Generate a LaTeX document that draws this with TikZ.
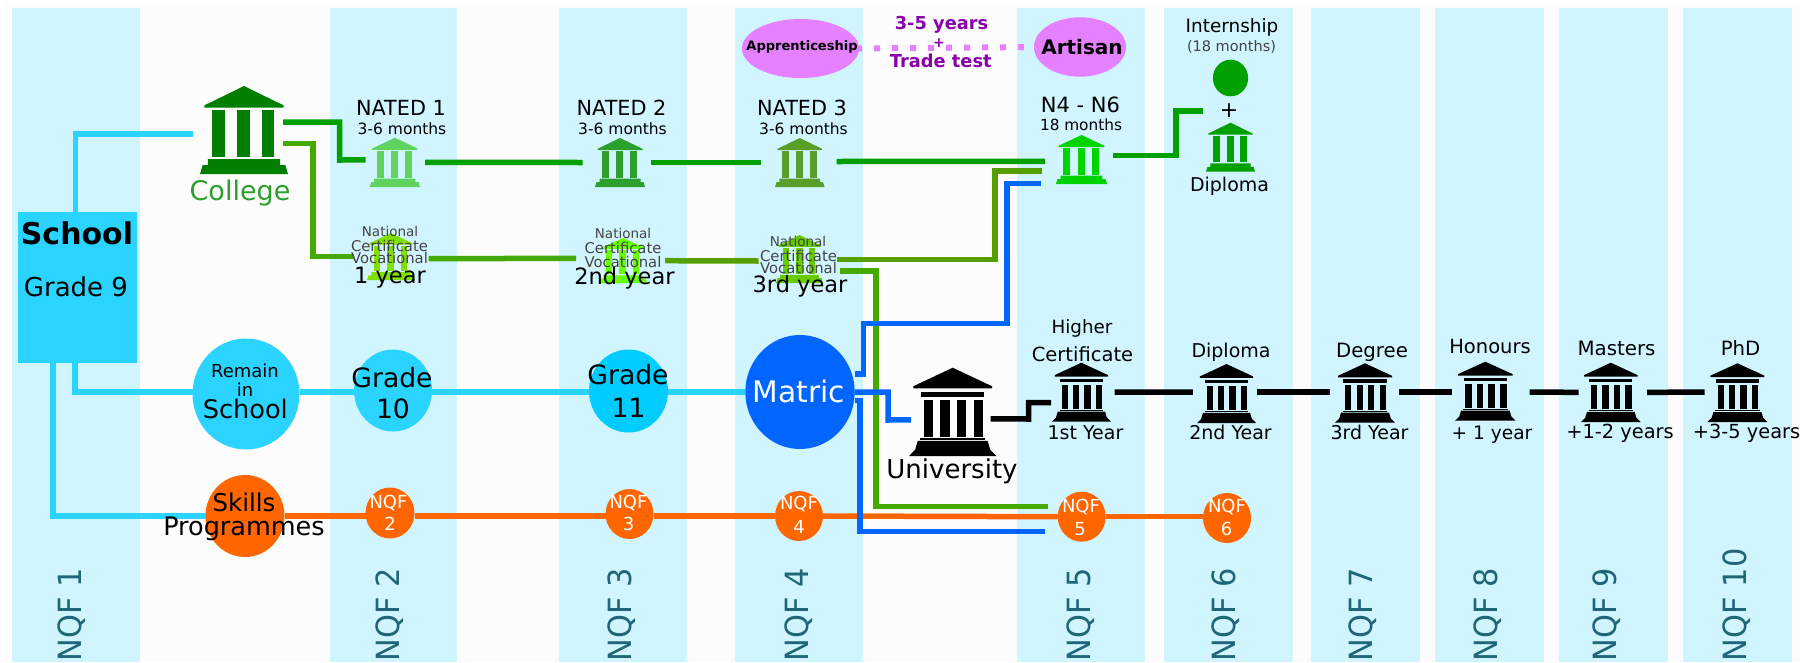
\documentclass[tikz,border=0pt]{standalone}
\usepackage{fontspec}
\setmainfont{DejaVu Sans}
\usetikzlibrary{shapes.geometric}
\definecolor{bandc}{HTML}{D1F5FF}
\definecolor{pagec}{HTML}{FCFCFC}
\definecolor{sky}{HTML}{2AD4FF}
\definecolor{skyb}{HTML}{00CCFF}
\definecolor{blu}{HTML}{0066FF}
\definecolor{org}{HTML}{FF6600}
\definecolor{pink}{HTML}{E580FF}
\definecolor{purp}{HTML}{8800AA}
\definecolor{grA}{HTML}{00A000}
\definecolor{grB}{HTML}{44AA00}
\definecolor{grC}{HTML}{55A000}
\definecolor{teal}{HTML}{1F6678}
\definecolor{ncvt}{HTML}{444444}
\definecolor{colg}{HTML}{007F00}
\definecolor{natA}{HTML}{5FD35F}
\definecolor{natB}{HTML}{2CA02C}
\definecolor{natC}{HTML}{5A9E2A}
\definecolor{natD}{HTML}{00D400}
\definecolor{natE}{HTML}{00A000}
\definecolor{ncvA}{HTML}{80E000}
\definecolor{ncvB}{HTML}{66FF00}
\definecolor{ncvC}{HTML}{66CC00}
\definecolor{coltx}{HTML}{2CA02C}
\tikzset{
  band/.style={fill=bandc},
  iconbox/.style={inner sep=0pt,outer sep=0pt},
  blob/.style={ellipse,inner sep=0pt,outer sep=0pt},
  lbl/.style={inner sep=0pt,outer sep=0pt,align=center},
  nqflab/.style={inner sep=0pt,outer sep=0pt,rotate=90,anchor=west,text=teal,font=\fontsize{32pt}{32pt}\selectfont},
  conn/.style={line width=5.5pt,line join=miter},
  skyline/.style={conn,sky},
  grAline/.style={conn,grA},
  grBline/.style={conn,grB},
  grCline/.style={conn,grC},
  blueline/.style={conn,blu},
  orgline/.style={conn,org},
  blkline/.style={conn,black}
}
% three-column building
\newcommand{\bankA}[6]{%
  \pgfmathsetmacro\bw{#4-#2}\pgfmathsetmacro\bh{#5-#3}%
  \node[iconbox,minimum width=\bw pt,minimum height=\bh pt] (#1) at ({(#2+#4)/2},{(#3+#5)/2}) {};
  \begin{scope}[shift={(#2,#3)},xscale=\bw,yscale=\bh]
    \fill[#6] (.5,0) -- (.95,.22) -- (.95,.245) -- (.05,.245) -- (.05,.22) -- cycle;
    \fill[#6] (.14,.275) rectangle (.28,.81);
    \fill[#6] (.425,.275) rectangle (.565,.81);
    \fill[#6] (.70,.275) rectangle (.84,.81);
    \fill[#6] (.09,.83) -- (.91,.83) -- (.91,.90) -- (.97,.90) -- (1,1) -- (0,1) -- (.03,.90) -- (.09,.90) -- cycle;
  \end{scope}}
% four-column building
\newcommand{\bankB}[6]{%
  \pgfmathsetmacro\bw{#4-#2}\pgfmathsetmacro\bh{#5-#3}%
  \node[iconbox,minimum width=\bw pt,minimum height=\bh pt] (#1) at ({(#2+#4)/2},{(#3+#5)/2}) {};
  \begin{scope}[shift={(#2,#3)},xscale=\bw,yscale=\bh]
    \fill[#6] (.5,0) -- (.95,.21) -- (.95,.235) -- (.05,.235) -- (.05,.21) -- cycle;
    \fill[#6] (.14,.27) rectangle (.86,.33);
    \foreach \cx in {.168,.36,.55,.745} \fill[#6] (\cx,.37) rectangle (\cx+.105,.78);
    \fill[#6] (.13,.795) rectangle (.87,.815);
    \fill[#6] (.10,.83) -- (.90,.83) -- (.93,.93) -- (1,1) -- (0,1) -- (.07,.93) -- cycle;
  \end{scope}}
\newcommand{\blobat}[6]{\node[blob,fill=#6,minimum width=#4*2pt,minimum height=#5*2pt] (#1) at (#2,#3) {};}
\newcommand{\lab}[6]{\node[lbl,font=\fontsize{#4pt}{#4pt}\selectfont,#5] (#1) at (#2,#3) {#6};}
\begin{document}
\begin{tikzpicture}[x=1pt,y=-1pt]
\useasboundingbox (0,0) rectangle (1804,662);
\fill[white] (0,0) rectangle (1804,662);
\fill[pagec] (6,3) rectangle (1800,662);
% bands
\foreach \a/\b in {11.5/140,330/457,559/687,735/863,1016.5/1145,1164/1292.5,1311/1419.5,1435/1543.7,1559/1667.6,1683/1792}
  \fill[band] (\a,8) rectangle (\b,662);
% school
\node[iconbox,fill=sky,minimum width=118.6pt,minimum height=151pt] (school) at (77.7,287.5) {};
% buildings
\bankA{college}{200}{86}{288}{174}{colg}
\bankA{nat1}{369.7}{137.7}{420}{187}{natA}
\bankA{nat2}{595}{138}{645}{187}{natB}
\bankA{nat3}{775}{138}{824.5}{187}{natC}
\bankA{nfour}{1056}{135}{1107}{184}{natD}
\bankA{dipl}{1206}{122.7}{1255}{171.7}{natE}
\bankA{ncv1}{367}{233}{415}{280}{ncvA}
\bankA{ncv2}{599}{238}{647}{283}{ncvB}
\bankA{ncv3}{776}{235}{823}{283}{ncvC}
\bankB{univ}{909}{367.7}{996.4}{456}{black}
\bankB{hc}{1051.8}{362.7}{1111}{421.7}{black}
\bankB{dip}{1197}{364}{1256}{423}{black}
\bankB{deg}{1335}{363.3}{1395}{422.7}{black}
\bankB{hon}{1455}{361.7}{1515.6}{420.7}{black}
\bankB{mas}{1581}{362.7}{1640.6}{422}{black}
\bankB{phd}{1707.4}{363.3}{1767.4}{422}{black}
% blobs
\blobat{rem}{246}{394}{53.5}{55.5}{sky}
\blobat{gten}{393}{390.5}{39}{41}{sky}
\blobat{gele}{628.5}{391}{39.5}{41.5}{skyb}
\blobat{mat}{800}{392}{54.7}{57}{blu}
\blobat{skl}{245}{516}{39.5}{41}{org}
\blobat{qtwo}{390}{513}{24.5}{25.5}{org}
\blobat{qthr}{629.5}{514}{24}{25}{org}
\blobat{qfou}{799}{516}{24}{25}{org}
\blobat{qfiv}{1081.7}{516.7}{24}{25}{org}
\blobat{qsix}{1227}{518}{24}{25}{org}
\blobat{app}{800.5}{48.5}{58.5}{29.5}{pink}
\blobat{art}{1080}{47}{46}{29.7}{pink}
\blobat{intern}{1230.5}{78}{17.6}{18.3}{grA}
% apprenticeship link
\draw[pink,line width=6pt,dash pattern=on 6pt off 12pt,dash phase=3pt] (app.east) -- (art.west);
% school lines
\draw[skyline] ([shift={(-2.3,0)}]school.north) -- (75.4,134) -- ([shift={(-7,4)}]college.west);
\draw[skyline] ([shift={(-2.7,0)}]school.south) -- (75,392) -- ([shift={(0,-2)}]rem.west);
\draw[skyline] ([shift={(-24.7,0)}]school.south) -- (53,516) -- (skl.west);
\draw[skyline] ([shift={(0,-2)}]rem.east) -- ([shift={(0,1.5)}]gten.west);
\draw[skyline] ([shift={(0,1.5)}]gten.east) -- ([shift={(0,1)}]gele.west);
\draw[skyline] ([shift={(0,1)}]gele.east) -- (mat.west);
% NATED track
\draw[grAline] ([shift={(-5,-8)}]college.east) -- (339.5,122) -- (339.5,160) -- ([shift={(-4,-2.4)}]nat1.west);
\draw[grAline] ([shift={(5,0)}]nat1.east) -- ([shift={(-12.3,0)}]nat2.west);
\draw[grAline] ([shift={(5.7,0)}]nat2.east) -- ([shift={(-14.3,0)}]nat3.west);
\draw[grAline] ([shift={(12,-1)}]nat3.east) -- ([shift={(-11,1.8)}]nfour.west);
\draw[grAline] ([shift={(5.5,-4.2)}]nfour.east) -- (1176,155.3) -- (1176,111) -- ([shift={(-3.3,-36.2)}]dipl.west);
% NCV track
\draw[grBline] ([shift={(-5,13.7)}]college.east) -- (313,143.7) -- (313,256.5) -- ([shift={(-13,0)}]ncv1.west);
\draw[grBline] ([shift={(13.6,2.2)}]ncv1.east) -- ([shift={(-23,-2.2)}]ncv2.west);
\draw[grCline] ([shift={(18,0.2)}]ncv2.east) -- ([shift={(-17.5,2)}]ncv3.west);
\draw[grCline] ([shift={(13.6,0.3)}]ncv3.east) -- (995,259.3) -- (995,171) -- ([shift={(-14,11.5)}]nfour.west);
\draw[grBline] ([shift={(16.7,12)}]ncv3.east) -- (876,271) -- (876,506.7) -- ([shift={(-10.2,-10)}]qfiv.west);
% orange line
\draw[orgline] (skl.east) -- ([shift={(0,3)}]qtwo.west);
\draw[orgline] ([shift={(0,3)}]qtwo.east) -- ([shift={(0,2)}]qthr.west);
\draw[orgline] ([shift={(0,2)}]qthr.east) -- (qfou.west);
\draw[orgline] (qfou.east) -- (qfiv.west);
\draw[orgline] (qfiv.east) -- ([shift={(0,-1.3)}]qsix.west);
% matric lines
\draw[blueline] ([shift={(0,-18)}]mat.east) -- (863.4,374) -- (863.4,323.3) -- (1007,323.3) -- (1007,183.3) -- ([shift={(-15.4,23.8)}]nfour.west);
\draw[blueline] (mat.east) -- (888,392) -- (888,420) -- ([shift={(2,8)}]univ.west);
\draw[blueline] ([shift={(0,8.7)}]mat.east) -- (859.8,400.7) -- (859.8,531.7) -- ([shift={(-13,15)}]qfiv.west);
% university lines
\draw[blkline] ([shift={(-5.8,7)}]univ.east) -- (1028.6,419) -- (1028.6,402.7) -- ([shift={(-.8,10.5)}]hc.west);
\draw[blkline] ([shift={(3.7,0)}]hc.east) -- ([shift={(-4.2,-1.5)}]dip.west);
\draw[blkline] ([shift={(1,-1.5)}]dip.east) -- ([shift={(-5,-1)}]deg.west);
\draw[blkline] ([shift={(4,-1)}]deg.east) -- ([shift={(-2.6,.8)}]hon.west);
\draw[blkline] ([shift={(13.9,.8)}]hon.east) -- ([shift={(-2.5,0)}]mas.west);
\draw[blkline] ([shift={(6.4,0)}]mas.east) -- ([shift={(-2.9,-.6)}]phd.west);
% NQF labels
\foreach \nn/\xx/\tt in {a/72/1,b/390/2,c/622/3,d/798.7/4,e/1081/5,f/1226/6,g/1363/7,h/1488/8,i/1607/9,j/1737/10}
  \node[nqflab] (nqf\nn) at (\xx,661) {\scalebox{.95}[1]{NQF \tt}};
% texts
\lab{tsch}{77}{233}{30}{font=\fontsize{30pt}{30pt}\selectfont\bfseries}{School}
\lab{tgr9}{76}{287}{26}{}{Grade 9}
\lab{tcol}{240}{193.5}{27}{text=coltx}{College}
\lab{tn1}{401}{108}{20.8}{}{NATED 1}
\lab{tm1}{402}{129}{15.5}{}{3-6 months}
\lab{tn2}{621.5}{108}{20.8}{}{NATED 2}
\lab{tm2}{622.5}{129}{15.5}{}{3-6 months}
\lab{tn3}{802}{108}{20.8}{}{NATED 3}
\lab{tm3}{803.5}{129}{15.5}{}{3-6 months}
\lab{tn4}{1080.5}{105}{21}{}{N4 - N6}
\lab{tm4}{1081}{125}{15.3}{}{18 months}
\lab{tint}{1232}{27.7}{18.4}{}{Internship}
\lab{tint2}{1231.5}{47.3}{14.5}{text=ncvt}{(18 months)}
\lab{tplus}{1229}{111}{22}{}{+}
\lab{tdipl}{1229.5}{186}{19}{}{Diploma}
\lab{tyr}{941.5}{25}{17.8}{font=\fontsize{17.8pt}{17.8pt}\selectfont\bfseries,text=purp}{3-5 years}
\lab{tpl}{939}{43}{14}{font=\fontsize{14pt}{14pt}\selectfont\bfseries,text=purp}{+}
\lab{ttr}{940.8}{60.5}{17.8}{font=\fontsize{17.8pt}{17.8pt}\selectfont\bfseries,text=purp}{Trade test}
\lab{tapp}{802}{47.3}{13}{font=\fontsize{13pt}{13pt}\selectfont\bfseries}{Apprenticeship}
\lab{tart}{1082}{47.3}{20}{font=\fontsize{20pt}{20pt}\selectfont\bfseries}{Artisan}
% NCV
\lab{tv1a}{390}{231.7}{13.5}{text=ncvt}{National}
\lab{tv1b}{389.5}{246}{14.8}{text=ncvt}{Certificate}
\lab{tv1c}{389.5}{258}{14.8}{text=ncvt}{Vocational}
\lab{tv1d}{390}{277.5}{22.5}{}{1 year}
\lab{tv2a}{623}{233}{13.5}{text=ncvt}{National}
\lab{tv2b}{623}{248}{14.8}{text=ncvt}{Certificate}
\lab{tv2c}{623}{262}{14.8}{text=ncvt}{Vocational}
\lab{tv2d}{624.5}{278}{22.5}{}{2nd year}
\lab{tv3a}{798}{241.7}{13.5}{text=ncvt}{National}
\lab{tv3b}{798.5}{256}{14.8}{text=ncvt}{Certificate}
\lab{tv3c}{798.5}{268}{14.8}{text=ncvt}{Vocational}
\lab{tv3d}{800}{286.5}{22.5}{}{3rd year}
% school track
\lab{trem}{245}{370.7}{18}{}{Remain}
\lab{tin}{245}{389.3}{18}{}{in}
\lab{tsc}{245.3}{409}{25.6}{}{School}
\lab{tg1}{392}{377.3}{26.6}{}{Grade}
\lab{tg10}{393}{409}{26.6}{}{10}
\lab{tg2}{628}{375}{26.6}{}{Grade}
\lab{tg11}{628.5}{408}{26.6}{}{11}
\lab{tmat}{799}{391}{29.7}{text=white}{Matric}
\lab{tsk}{244}{502.3}{24.5}{}{Skills}
\lab{tprog}{244}{529}{25.5}{}{Programmes}
\lab{tq2a}{388.5}{502.7}{18}{text=white}{NQF}
\lab{tq2b}{390}{524}{18}{text=white}{2}
\lab{tq3a}{628.5}{502.7}{18}{text=white}{NQF}
\lab{tq3b}{628.5}{524}{18}{text=white}{3}
\lab{tq4a}{799}{504}{18}{text=white}{NQF}
\lab{tq4b}{799}{527}{18}{text=white}{4}
\lab{tq5a}{1081}{506.7}{18}{text=white}{NQF}
\lab{tq5b}{1080}{529}{18}{text=white}{5}
\lab{tq6a}{1227}{506.7}{18}{text=white}{NQF}
\lab{tq6b}{1226.5}{529}{18}{text=white}{6}
% university track
\lab{tuni}{952}{471}{26}{}{University}
\lab{thi}{1082}{328}{18.3}{}{Higher}
\lab{tce}{1082.5}{354}{19.5}{}{Certificate}
\lab{t1y}{1085.5}{432.7}{19}{}{1st Year}
\lab{tdp}{1231}{352.7}{19}{}{Diploma}
\lab{t2y}{1230.5}{432.7}{19}{}{2nd Year}
\lab{tdg}{1372}{352.7}{19.7}{}{Degree}
\lab{t3y}{1369.5}{432.7}{19}{}{3rd Year}
\lab{thn}{1490}{346.7}{19.5}{}{Honours}
\lab{t1p}{1492}{435}{18.6}{}{+ 1 year}
\lab{tms}{1616.5}{348.3}{19.8}{}{Masters}
\lab{t12}{1620}{433.3}{19.4}{}{+1-2 years}
\lab{tph}{1740.5}{348.3}{19.7}{}{PhD}
\lab{t35}{1746.5}{433.3}{19.4}{}{+3-5 years}
\end{tikzpicture}
\end{document}
